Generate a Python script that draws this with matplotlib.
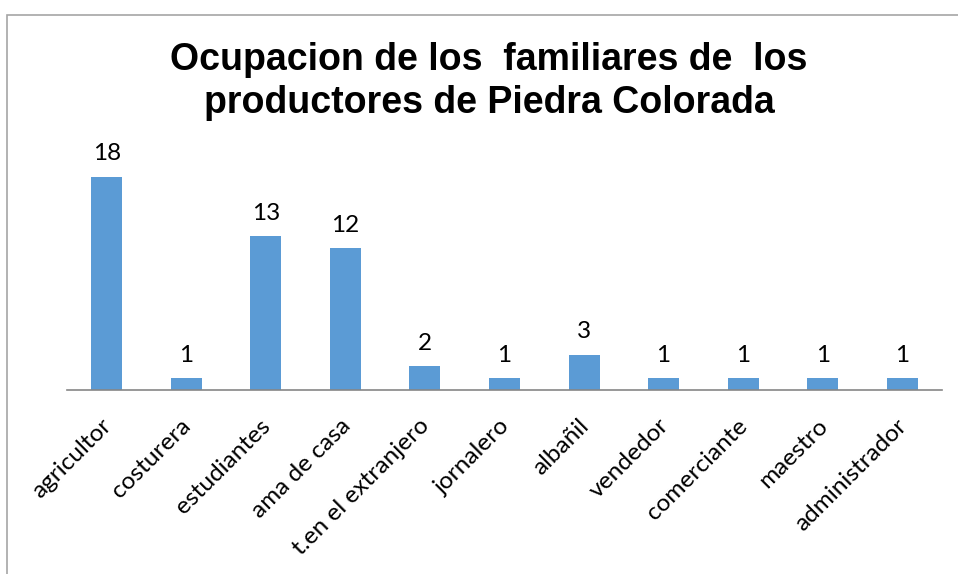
import matplotlib
matplotlib.use("Agg")
import matplotlib.pyplot as plt
import matplotlib.transforms as mtransforms
from matplotlib.patches import Rectangle

# data
ocupaciones = ["agricultor", "costurera", "estudiantes", "ama de casa",
               "t.en el extranjero", "jornalero", "albañil", "vendedor",
               "comerciante", "maestro", "administrador"]
cantidades = [18, 1, 13, 12, 2, 1, 3, 1, 1, 1, 1]
titulo = "Ocupacion de los  familiares de  los\nproductores de Piedra Colorada"

fig = plt.figure(figsize=(9.58, 5.74), dpi=100)
W, H = 958, 574

# outer chart border (runs off the right/bottom of the image)
fig.patches.append(Rectangle((7 / W, -0.1), 2, 1 - 15 / H + 0.1,
                             transform=fig.transFigure, fill=False,
                             edgecolor="#a6a6a6", linewidth=1.2))

ax = fig.add_axes([67 / W, 1 - 390 / H, (942 - 67) / W, (390 - 177) / H])
x = range(len(ocupaciones))
bars = ax.bar(x, cantidades, width=0.39, color="#5b9bd5")
ax.set_xlim(-0.5, len(ocupaciones) - 0.5)
ax.set_ylim(0, 18)

for b, v in zip(bars, cantidades):
    ax.annotate(str(v), (b.get_x() + b.get_width() / 2, v),
                xytext=(0, 9), textcoords="offset points",
                ha="center", va="bottom", fontsize=17.5, family="Lato",
                annotation_clip=False)

for s in ["top", "right", "left"]:
    ax.spines[s].set_visible(False)
ax.spines["bottom"].set_color("#868686")
ax.spines["bottom"].set_linewidth(1.2)
ax.set_yticks([])
ax.set_xticks(list(x))
ax.set_xticklabels(ocupaciones, rotation=45, ha="right",
                   rotation_mode="anchor", fontsize=17.6, family="Lato")
ax.tick_params(axis="x", length=0, pad=18)
shift = mtransforms.ScaledTranslation(-6 / 100, 0, fig.dpi_scale_trans)
for lbl in ax.get_xticklabels():
    lbl.set_transform(lbl.get_transform() + shift)

fig.text(489 / W, 1 - 82 / H, titulo, ha="center", va="center",
         fontsize=27, fontweight="bold", family="Liberation Sans",
         linespacing=1.25)

fig.savefig("out.png", dpi=100)
